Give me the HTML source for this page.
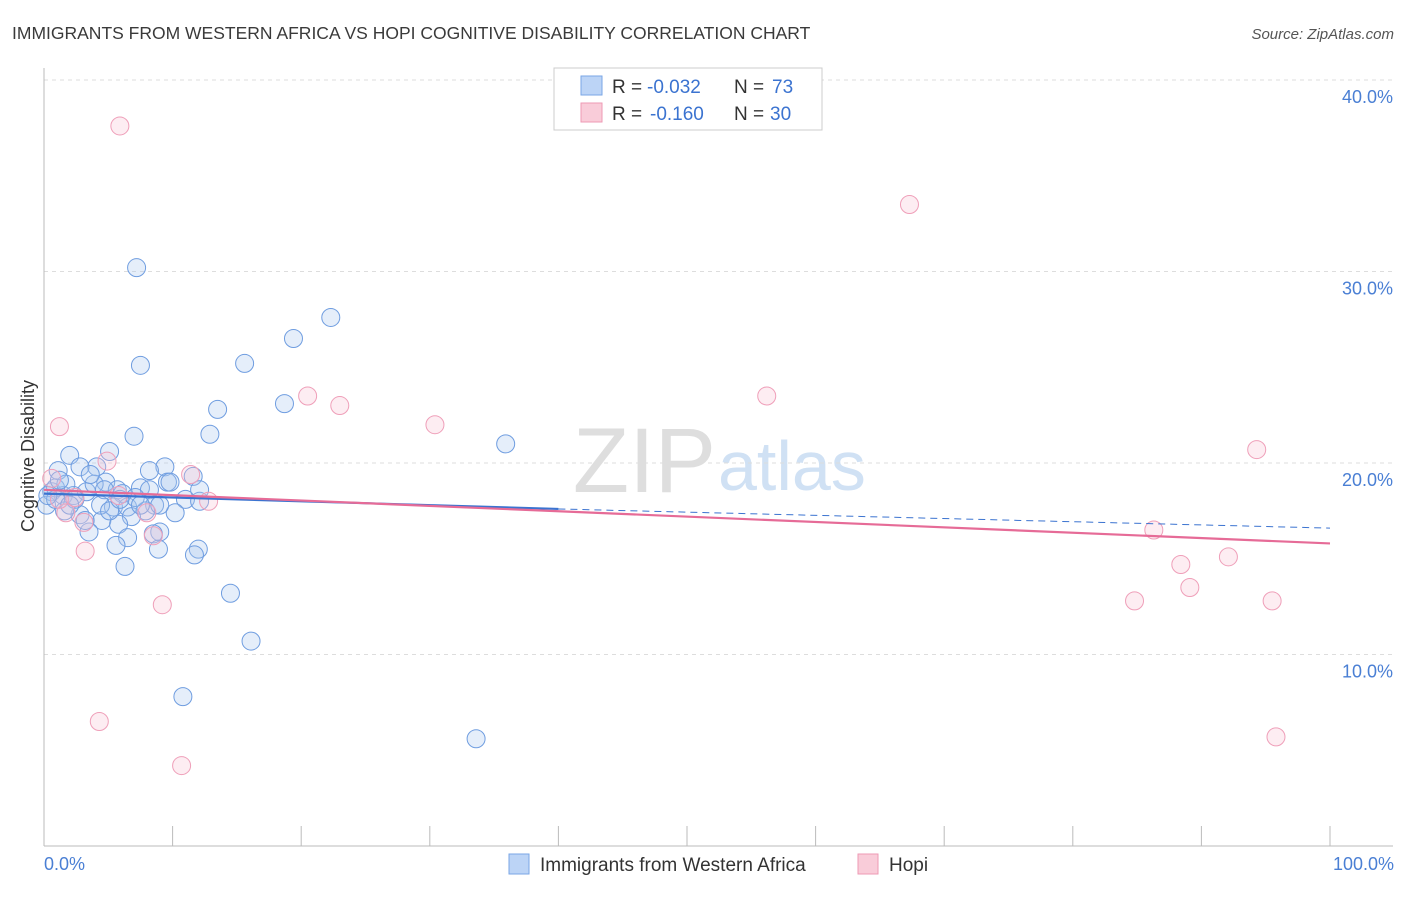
<!DOCTYPE html>
<html><head><meta charset="utf-8"><style>
body{margin:0;background:#fff;font-family:"Liberation Sans",sans-serif}
svg text{font-family:"Liberation Sans",sans-serif}
</style></head><body>
<svg id="chart" width="1406" height="892" viewBox="0 0 1406 892" xmlns="http://www.w3.org/2000/svg">
<text x="12" y="39" font-size="17.5" fill="#3a3a3a">IMMIGRANTS FROM WESTERN AFRICA VS HOPI COGNITIVE DISABILITY CORRELATION CHART</text>
<text x="1394" y="39" font-size="15" fill="#555" text-anchor="end" font-style="italic">Source: ZipAtlas.com</text>
<text x="716" y="492" font-size="92" text-anchor="end" fill="#dedede" font-family="Liberation Serif,serif">ZIP</text>
<text x="718" y="490" font-size="70" fill="#d0e1f4">atlas</text>
<g id="grid"></g><g id="axes"></g><g id="marks"></g><g id="trends"></g>
<text transform="translate(34,456) rotate(-90)" font-size="18" fill="#333" text-anchor="middle">Cognitive Disability</text>
<text x="44" y="870" font-size="18" fill="#4a7fd4">0.0%</text>
<text x="1394" y="870" font-size="18" fill="#4a7fd4" text-anchor="end">100.0%</text>
<g>
<rect x="554" y="68" width="268" height="62" fill="#fff" stroke="#ccc"/>
<rect x="581" y="76" width="21" height="19" fill="#bcd4f6" stroke="#7aa6e6"/>
<rect x="581" y="103" width="21" height="19" fill="#f9ccd9" stroke="#ee9ab4"/>
<text x="612" y="93" font-size="19" fill="#333">R =</text>
<text x="647" y="93" font-size="19" fill="#3b73d0">-0.032</text>
<text x="734" y="93" font-size="19" fill="#333">N =</text>
<text x="772" y="93" font-size="19" fill="#3b73d0">73</text>
<text x="612" y="120" font-size="19" fill="#333">R =</text>
<text x="650" y="120" font-size="19" fill="#3b73d0">-0.160</text>
<text x="734" y="120" font-size="19" fill="#333">N =</text>
<text x="770" y="120" font-size="19" fill="#3b73d0">30</text>
</g>
<g>
<rect x="509" y="854" width="20" height="20" fill="#bcd4f6" stroke="#7aa6e6"/>
<text x="540" y="871" font-size="19" fill="#333">Immigrants from Western Africa</text>
<rect x="858" y="854" width="20" height="20" fill="#f9ccd9" stroke="#ee9ab4"/>
<text x="889" y="871" font-size="19" fill="#333">Hopi</text>
</g>
</svg>
<script>
const yTicks=[10,20,30,40];
const xTickCount=10;
const blueX=[7.2,7.5,15.6,19.4,22.3,18.7,13.5,12.9,7.0,35.9,5.1,2.0,4.1,9.4,1.1,2.8,11.6,9.6,4.8,7.5,8.2,0.6,1.5,2.3,3.3,5.7,6.1,11.0,12.1,8.6,5.4,6.5,7.9,10.2,2.8,4.5,6.8,5.8,3.5,9.0,8.5,6.5,5.6,8.9,12.0,11.7,6.3,14.5,16.1,10.8,33.6,0.2,0.9,1.7,3.9,4.4,5.1,1.6,0.9,0.3,2.4,7.1,9.8,12.1,1.2,3.6,8.2,5.9,3.2,7.5,9.0,4.7,2.0];
const blueY=[30.2,25.1,25.2,26.5,27.6,23.1,22.8,21.5,21.4,21.0,20.6,20.4,19.8,19.8,19.6,19.8,19.3,19.0,19.0,18.7,18.6,18.5,18.3,18.3,18.5,18.6,18.4,18.1,18.0,17.8,17.7,17.7,17.5,17.4,17.3,17.0,17.2,16.8,16.4,16.4,16.3,16.1,15.7,15.5,15.5,15.2,14.6,13.2,10.7,7.8,5.6,17.8,18.7,18.9,18.9,17.8,17.5,17.5,18.1,18.3,18.1,18.2,19.0,18.6,19.1,19.4,19.6,18.1,17.0,17.8,17.8,18.6,17.8];
const pinkX=[5.9,67.3,20.5,23.0,56.2,30.4,1.2,94.3,4.9,11.4,0.6,2.4,5.8,8.0,12.8,1.7,3.1,8.5,3.2,86.3,92.1,88.4,89.1,84.8,95.5,9.2,4.3,95.8,10.7,1.2];
const pinkY=[37.6,33.5,23.5,23.0,23.5,22.0,21.9,20.7,20.1,19.4,19.2,18.2,18.3,17.4,18.0,17.4,16.9,16.2,15.4,16.5,15.1,14.7,13.5,12.8,12.8,12.6,6.5,5.7,4.2,18.1];
const blueTrend=[18.4,17.6,16.6]; // at x=0, 40, 100
const pinkTrend=[18.6,15.8];      // at x=0, 100
const X=v=>44+v*12.86, Y=v=>846-v*19.15;
const NS='http://www.w3.org/2000/svg';
function mk(tag,attrs,parent){const e=document.createElementNS(NS,tag);for(const k in attrs)e.setAttribute(k,attrs[k]);document.getElementById(parent).appendChild(e);return e;}
yTicks.forEach(t=>{
 const l=mk('line',{x1:44,x2:1393,y1:Y(t),y2:Y(t),stroke:'#ddd','stroke-dasharray':'4,4'},'grid');
 
 
 const tx=mk('text',{x:1393,y:Y(t)+23,'font-size':18,fill:'#4a7fd4','text-anchor':'end'},'grid');
 tx.textContent=t.toFixed(1)+'%';
 
 
});
const ax=mk('line',{x1:44,x2:1393,y1:846,y2:846,stroke:'#bbb'},'axes');


const ay=mk('line',{x1:44,x2:44,y1:68,y2:846,stroke:'#bbb'},'axes');


for(let i=1;i<=xTickCount;i++){
 const t=mk('line',{x1:X(i*10),x2:X(i*10),y1:826,y2:846,stroke:'#bbb'},'axes');
 
 
}
blueX.forEach((x,i)=>{
 const c=mk('circle',{cx:X(x),cy:Y(blueY[i]),r:9,fill:'rgba(170,200,240,0.3)',stroke:'#6f9de0','stroke-width':1},'marks');
 
 
});
pinkX.forEach((x,i)=>{
 const c=mk('circle',{cx:X(x),cy:Y(pinkY[i]),r:9,fill:'rgba(248,195,212,0.3)',stroke:'#ef9fb9','stroke-width':1},'marks');
 
 
});
const b1=mk('line',{x1:X(0),y1:Y(blueTrend[0]),x2:X(40),y2:Y(blueTrend[1]),stroke:'#3b73d0','stroke-width':2.2},'trends');


const b2=mk('line',{x1:X(40),y1:Y(blueTrend[1]),x2:X(100),y2:Y(blueTrend[2]),stroke:'#3b73d0','stroke-width':1,'stroke-dasharray':'7,5'},'trends');


const p1=mk('line',{x1:X(0),y1:Y(pinkTrend[0]),x2:X(100),y2:Y(pinkTrend[1]),stroke:'#e66b97','stroke-width':2.2},'trends');


</script>
</body></html>
